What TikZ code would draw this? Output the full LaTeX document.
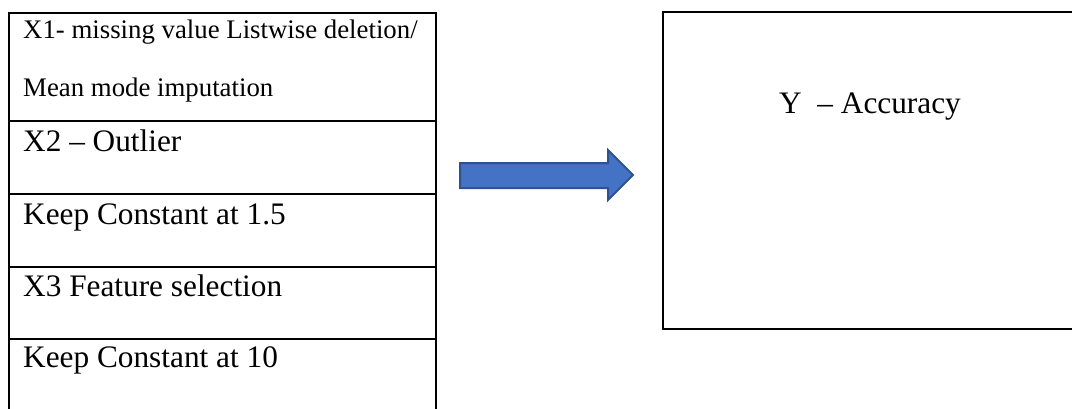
\documentclass[tikz,border=0pt]{standalone}
\usepackage{fontspec}
\setmainfont{Liberation Serif}
\definecolor{arrowblue}{HTML}{4472C4}
\definecolor{arrowedge}{HTML}{2F528F}
\begin{document}
\begin{tikzpicture}[x=1pt,y=-1pt,
  cell/.style={draw=black, line width=2.9pt, inner sep=0pt, outer sep=0pt,
               anchor=north west, minimum width=427pt},
  small/.style={font=\fontsize{26.8}{32}\selectfont, inner sep=0pt, anchor=base west},
  large/.style={font=\fontsize{31.3}{36}\selectfont, inner sep=0pt, anchor=base west},
  blockarrow/.style={fill=arrowblue, draw=arrowedge, line width=2pt, line join=miter}]
\useasboundingbox (0,0) rectangle (1072,408);
\clip (0,0) rectangle (1072,408);

% left table of factors
\node[cell, minimum height=108pt] (r1) at (9,13) {};
\node[cell, minimum height=73pt]  (r2) at (9,121) {};
\node[cell, minimum height=73pt]  (r3) at (9,194) {};
\node[cell, minimum height=72pt]  (r4) at (9,267) {};
\node[cell, minimum height=73pt]  (r5) at (9,339) {};

\node[small] (t1a) at (23,38) {X1- missing value Listwise deletion/};
\node[small] (t1b) at (23,96) {Mean mode imputation};
\node[large] (t2) at (23,151) {X2 -- Outlier};
\node[large] (t3) at (23,224) {Keep Constant at 1.5};
\node[large] (t4) at (23,296) {X3 Feature selection};
\node[large] (t5) at (23,367) {Keep Constant at 10};

% response box
\node[draw=black, line width=2.9pt, inner sep=0pt, outer sep=0pt, anchor=north west,
      minimum width=412pt, minimum height=317pt] (y) at (663,12) {};
\node[large] (ty) at (779,113) {Y \ -- Accuracy};

% block arrow
\coordinate (a0) at (460,163);
\coordinate (a1) at (608,163);
\coordinate (a2) at (608,150);
\coordinate (a3) at (633,175);
\coordinate (a4) at (608,200);
\coordinate (a5) at (608,188);
\coordinate (a6) at (460,188);
\draw[blockarrow] (a0) -- (a1) -- (a2) -- (a3) -- (a4) -- (a5) -- (a6) -- cycle;
\end{tikzpicture}
\end{document}
